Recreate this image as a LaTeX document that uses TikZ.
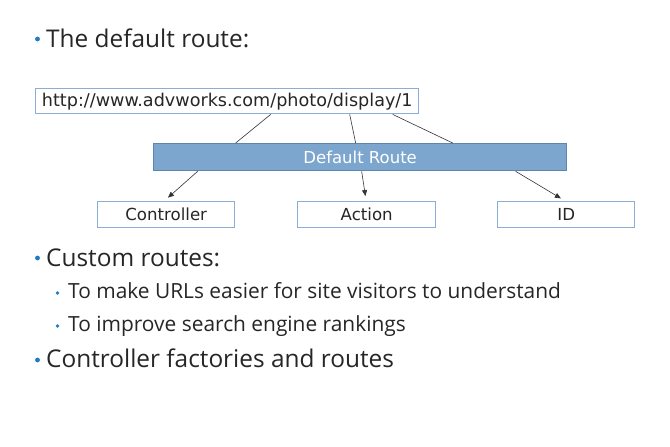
\documentclass[tikz,border=0pt]{standalone}
\usepackage{fontspec}
\setmainfont{Open Sans}
\newfontfamily\diagfont{DejaVu Sans}
\usetikzlibrary{arrows.meta}
\definecolor{txt}{HTML}{262626}
\definecolor{bul}{HTML}{1F7BC2}
\definecolor{boxline}{HTML}{8AAED6}
\definecolor{barfill}{HTML}{7DA6CE}
\definecolor{barline}{HTML}{5E85B0}
\tikzset{
  mainitem/.style={anchor=base west, inner sep=0pt, text=txt, font=\fontsize{24.4}{28}\selectfont},
  subitem/.style={anchor=base west, inner sep=0pt, text=txt, font=\fontsize{20.9}{24}\selectfont},
  mainbul/.style={fill=bul, draw=none},
  wbox/.style={draw=boxline, line width=1.4pt, fill=white, inner sep=0pt, text=txt, font=\diagfont\fontsize{16.6}{18}\selectfont},
  urlbox/.style={wbox, font=\diagfont\fontsize{17.6}{20}\selectfont},
  barbox/.style={draw=barline, line width=1.3pt, fill=barfill, inner sep=0pt, text=white, font=\diagfont\fontsize{16.5}{18}\selectfont},
  conn/.style={draw=black!80, line width=0.6pt},
  arr/.style={conn, -{Triangle[length=6pt,width=5pt]}}
}
\begin{document}
\begin{tikzpicture}[x=1pt,y=-1pt]
\useasboundingbox (0,0) rectangle (670,447);
% bullets
\fill[mainbul] (37.5,39) circle (2.4);
\node[mainitem] (t1) at (46,47) {The default route:};
\fill[mainbul] (37.5,258) circle (2.4);
\node[mainitem] (t2) at (46,266) {Custom routes:};
\fill[mainbul] (57.5,293) circle (1.9);
\node[subitem] (s1) at (68,298) {To make URLs easier for site visitors to understand};
\fill[mainbul] (57.5,326) circle (1.9);
\node[subitem] (s2) at (68,331) {To improve search engine rankings};
\fill[mainbul] (37.5,360) circle (2.4);
\node[mainitem] (t3) at (46,367) {Controller factories and routes};
% diagram
\node[urlbox, minimum width=383pt, minimum height=25pt, anchor=north west] (url) at (35,88) {http://www.advworks.com/photo/display/1};
\node[barbox, minimum width=413pt, minimum height=27pt, anchor=north west] (bar) at (153,143) {Default Route};
\node[wbox, minimum width=137pt, minimum height=26pt, anchor=north west] (ctrl) at (97,201) {Controller};
\node[wbox, minimum width=138pt, minimum height=26pt, anchor=north west] (act) at (297,201) {Action};
\node[wbox, minimum width=137pt, minimum height=26pt, anchor=north west] (idn) at (497,201) {ID};
% connectors
\draw[conn] ([xshift=43.5pt]url.south) -- ([xshift=-124.5pt]bar.north);
\draw[conn] ([xshift=122.5pt]url.south) -- ([xshift=-4.5pt]bar.north);
\draw[conn] ([xshift=165.5pt]url.south) -- ([xshift=92.5pt]bar.north);
\draw[arr, shorten >=5pt] ([xshift=-162.5pt]bar.south) -- ([xshift=-2pt]ctrl.north);
\draw[arr, shorten >=5pt] ([xshift=1.5pt]bar.south) -- ([xshift=-0.5pt]act.north);
\draw[arr, shorten >=5pt] ([xshift=155.5pt]bar.south) -- ([xshift=-1pt]idn.north);
\end{tikzpicture}
\end{document}
